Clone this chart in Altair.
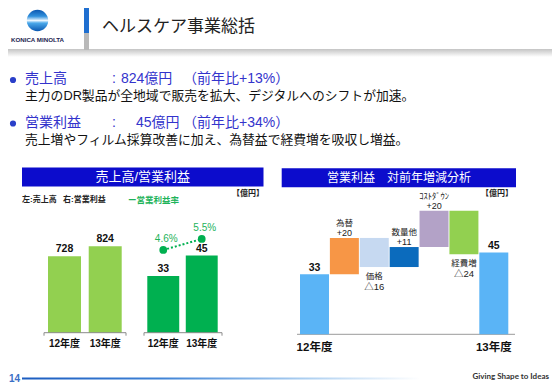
import altair as alt
import pandas as pd

# ---------------- data ----------------
slide_title = "ヘルスケア事業総括"
bullet_items = ["売上高", "営業利益"]
bullet_values = ["824億円", "45億円"]
bullet_growth = ["（前年比+13%）", "（前年比+34%）"]
bullet_notes = [
    "主力のDR製品が全地域で販売を拡大、デジタルへのシフトが加速。",
    "売上増やフィルム採算改善に加え、為替益で経費増を吸収し増益。",
]

years = ["12年度", "13年度"]
sales = [728, 824]
profit = [33, 45]
margin = [4.6, 5.5]
margin_labels = ["4.6%", "5.5%"]

wf_steps = ["12年度", "為替", "価格", "数量他", "ｺｽﾄﾀﾞｳﾝ", "経費増", "13年度"]
wf_values = [33, 20, -16, 11, 20, -24, 45]
wf_value_labels = ["33", "+20", "△16", "+11", "+20", "△24", "45"]
wf_colors = ["#5ab4f6", "#f79646", "#c6d9f1", "#0b6bbd", "#b3a2c7", "#92d050", "#5ab4f6"]

# ---------------- helpers ----------------
FONT = "Liberation Sans, 'Noto Sans CJK JP', sans-serif"
JP = "'Noto Sans CJK JP', sans-serif"
OX, OY = 8, 8


def X(v):
    return v - OX


def Y(v):
    return v - OY


dummy = pd.DataFrame({"k": [0]})


def label(text, x, y, size=12, color="#111111", weight="normal", align="center",
          font=FONT, baseline="middle"):
    return alt.Chart(dummy).mark_text(
        text=text, align=align, baseline=baseline, fontSize=size, color=color,
        fontWeight=weight, font=font,
    ).encode(x=alt.value(X(x)), y=alt.value(Y(y)))


def box(x1, y1, x2, y2, color):
    return alt.Chart(dummy).mark_rect(color=color).encode(
        x=alt.value(X(x1)), x2=alt.value(X(x2)), y=alt.value(Y(y1)), y2=alt.value(Y(y2)))


def rule(x1, y1, x2, y2, color, width=1.0):
    return alt.Chart(dummy).mark_rule(color=color, strokeWidth=width).encode(
        x=alt.value(X(x1)), x2=alt.value(X(x2)), y=alt.value(Y(y1)), y2=alt.value(Y(y2)))


def lingrad(stops, horizontal=True):
    return alt.LinearGradient(
        gradient="linear",
        stops=[alt.GradientStop(color=c, offset=o) for o, c in stops],
        x1=0, y1=0, x2=1 if horizontal else 0, y2=0 if horizontal else 1)


layers = []

# ---------------- slide header ----------------
layers.append(box(8, 49, 552, 57, lingrad([(0, "#c4c4c4"), (1, "#ffffff")], horizontal=False)))
layers.append(box(84, 8, 89, 33, "#1f6fd0"))
layers.append(box(84, 33, 89, 50, "#b9b9b9"))
layers.append(alt.Chart(dummy).mark_circle(
    size=460, opacity=1,
    color=lingrad([(0, "#0b57b0"), (0.3, "#2f8fdc"), (0.5, "#e8f5ff"),
                   (0.62, "#4aa8ea"), (1, "#0a58b2")], horizontal=False)
).encode(x=alt.value(X(37.5)), y=alt.value(Y(20.5))))
layers.append(label("KONICA MINOLTA", 37.5, 39.5, size=6.2, color="#1c2550", weight="bold"))
layers.append(label(slide_title, 102, 27, size=17, color="#222222", align="left", font=JP))

# ---------------- bullets ----------------
row_y = [79, 122.5]
note_y = [96, 140]
val_x = [121, 136]
for i in range(2):
    layers.append(alt.Chart(dummy).mark_circle(size=38, color="#2a3fc9", opacity=1).encode(
        x=alt.value(X(13)), y=alt.value(Y(row_y[i] + 1))))
    layers.append(label(bullet_items[i], 25, row_y[i], size=14, color="#3333cc", align="left"))
    layers.append(label(":", 114, row_y[i], size=14, color="#3333cc"))
    layers.append(label(bullet_values[i], val_x[i], row_y[i], size=14, color="#3333cc", align="left"))
    layers.append(label(bullet_growth[i], 183, row_y[i], size=14, color="#3333cc", align="left"))
    layers.append(label(bullet_notes[i], 25, note_y[i], size=12.8, color="#111111", align="left"))

# ---------------- left panel ----------------
layers.append(box(22, 167.5, 263.5, 186.5, "#0c0ccc"))
layers.append(label("売上高/営業利益", 142.7, 177, size=13, color="#ffffff"))
layers.append(label("左:売上高", 22, 200, size=8, color="#222222", align="left", weight="bold"))
layers.append(label("右:営業利益", 63, 200, size=8, color="#222222", align="left", weight="bold"))
layers.append(label("ー営業利益率", 128, 200, size=8.5, color="#1db35a", align="left", weight="bold"))
layers.append(label("【億円】", 264, 194, size=8, color="#222222", align="right", weight="bold"))

df_lr = pd.DataFrame({"year": years, "sales": sales, "profit": profit,
                      "margin": margin, "mlabel": margin_labels})

BASE = 332.7
sx_sales = alt.Scale(type="band", domain=years, range=[X(48), X(121.7)], paddingInner=0.19, paddingOuter=0)
sy_sales = alt.Scale(domain=[0, 1000], range=[Y(BASE), Y(BASE - 105)])
sx_prof = alt.Scale(type="band", domain=years, range=[X(147.3), X(217.7)], paddingInner=0.17, paddingOuter=0)
sy_prof = alt.Scale(domain=[0, 100], range=[Y(BASE), Y(BASE - 171.5)])
sy_marg = alt.Scale(domain=[0, 10], range=[Y(306.2), Y(184.0)])

base_lr = alt.Chart(df_lr)
layers.append(base_lr.mark_bar(color="#92d050").encode(
    x=alt.X("year:N", scale=sx_sales, axis=None),
    y=alt.Y("sales:Q", scale=sy_sales, axis=None)))
layers.append(base_lr.mark_text(dy=-7, fontSize=10.5, fontWeight="bold", font=FONT, color="#111111").encode(
    x=alt.X("year:N", scale=sx_sales, axis=None),
    y=alt.Y("sales:Q", scale=sy_sales, axis=None),
    text="sales:Q"))
layers.append(base_lr.mark_text(fontSize=10, fontWeight="bold", font=FONT, color="#111111").encode(
    x=alt.X("year:N", scale=sx_sales, axis=None),
    y=alt.value(Y(344)),
    text="year:N"))

layers.append(base_lr.mark_bar(color="#00b050").encode(
    x=alt.X("year:N", scale=sx_prof, axis=None),
    y=alt.Y("profit:Q", scale=sy_prof, axis=None)))
layers.append(base_lr.mark_text(dy=-7, fontSize=10.5, fontWeight="bold", font=FONT, color="#111111").encode(
    x=alt.X("year:N", scale=sx_prof, axis=None),
    y=alt.Y("profit:Q", scale=sy_prof, axis=None),
    text="profit:Q"))
layers.append(base_lr.mark_text(fontSize=10, fontWeight="bold", font=FONT, color="#111111").encode(
    x=alt.X("year:N", scale=sx_prof, axis=None),
    y=alt.value(Y(344)),
    text="year:N"))

layers.append(base_lr.mark_line(color="#00b050", strokeWidth=2, strokeDash=[2, 2]).encode(
    x=alt.X("year:N", scale=sx_prof, axis=None),
    y=alt.Y("margin:Q", scale=sy_marg, axis=None)))
layers.append(base_lr.mark_circle(size=60, color="#00b050", opacity=1).encode(
    x=alt.X("year:N", scale=sx_prof, axis=None),
    y=alt.Y("margin:Q", scale=sy_marg, axis=None)))
layers.append(base_lr.mark_text(dy=-11, dx=3, fontSize=10, font=FONT, color="#1db35a").encode(
    x=alt.X("year:N", scale=sx_prof, axis=None),
    y=alt.Y("margin:Q", scale=sy_marg, axis=None),
    text="mlabel:N"))

for a, b in [(44, 126), (144, 222)]:
    layers.append(rule(a, BASE, b, BASE, "#8a8a8a", 1))
    layers.append(rule(a, BASE, a, BASE + 3, "#8a8a8a", 1))
    layers.append(rule(b, BASE, b, BASE + 3, "#8a8a8a", 1))

# ---------------- right panel (waterfall) ----------------
layers.append(box(281.7, 168.3, 516, 187.3, "#0c0ccc"))
layers.append(label("営業利益　対前年増減分析", 399, 177.5, size=12, color="#ffffff"))
layers.append(label("【億円】", 513, 194, size=8, color="#222222", align="right", weight="bold"))

rows = []
level = 0
last = len(wf_steps) - 1
for i, (s, v, vl) in enumerate(zip(wf_steps, wf_values, wf_value_labels)):
    if i in (0, last):
        lo, hi, kind = 0, v, "total"
        level = v
    else:
        lo, hi = sorted([level, level + v])
        kind = "up" if v > 0 else "down"
        level += v
    rows.append({"step": s, "lo": lo, "hi": hi, "kind": kind, "vlabel": vl})
df_wf = pd.DataFrame(rows)

WB = 334.3
sx_wf = alt.Scale(type="band", domain=wf_steps, range=[X(300), X(508.3)], paddingInner=0.03, paddingOuter=0)
sy_wf = alt.Scale(domain=[0, 100], range=[Y(WB), Y(WB - 181.8)])
xw = alt.X("step:N", scale=sx_wf, axis=None)

layers.append(rule(297, WB, 515, WB, "#9a9a9a", 1))
base_wf = alt.Chart(df_wf)
layers.append(base_wf.mark_bar().encode(
    x=xw,
    y=alt.Y("lo:Q", scale=sy_wf, axis=None),
    y2="hi:Q",
    color=alt.Color("step:N", scale=alt.Scale(domain=wf_steps, range=wf_colors), legend=None)))

tot = base_wf.transform_filter(alt.datum.kind == "total")
up = base_wf.transform_filter(alt.datum.kind == "up")
down = base_wf.transform_filter(alt.datum.kind == "down")

layers.append(tot.mark_text(dy=-6, fontSize=10.5, fontWeight="bold", font=FONT, color="#111111").encode(
    x=xw, y=alt.Y("hi:Q", scale=sy_wf, axis=None), text="vlabel:N"))
layers.append(tot.mark_text(fontSize=11.5, fontWeight="bold", font=FONT, color="#111111").encode(
    x=xw, y=alt.value(Y(348.3)), text="step:N"))
layers.append(up.mark_text(dy=-15, fontSize=8.5, font=FONT, color="#222222").encode(
    x=xw, y=alt.Y("hi:Q", scale=sy_wf, axis=None), text="step:N"))
layers.append(up.mark_text(dy=-5, fontSize=9, font=FONT, color="#222222").encode(
    x=xw, y=alt.Y("hi:Q", scale=sy_wf, axis=None), text="vlabel:N"))
layers.append(down.mark_text(dy=9, fontSize=8.5, font=FONT, color="#222222").encode(
    x=xw, y=alt.Y("lo:Q", scale=sy_wf, axis=None), text="step:N"))
layers.append(down.mark_text(dy=20, fontSize=9.5, font=FONT, color="#222222").encode(
    x=xw, y=alt.Y("lo:Q", scale=sy_wf, axis=None), text="vlabel:N"))

# ---------------- footer ----------------
layers.append(label("14", 9, 378.5, size=10, color="#3a6fc6", weight="bold", align="left"))
layers.append(box(22, 377.5, 420, 379.5, lingrad([(0, "#1b5cc0"), (0.35, "#3f83d6"), (0.7, "#a9cdf0"), (1, "#ffffff")])))
layers.append(label("Giving Shape to Ideas", 549, 377, size=8, color="#333333", align="right",
                    weight="bold", font="Lato, sans-serif"))

chart = alt.layer(*layers).resolve_scale(
    x="independent", y="independent", color="independent"
).properties(
    width=544, height=380, padding=0, autosize=alt.AutoSizeParams(type="none")
).configure_view(stroke=None)

chart.save("out.html", embed_options={"renderer": "svg", "actions": False})
